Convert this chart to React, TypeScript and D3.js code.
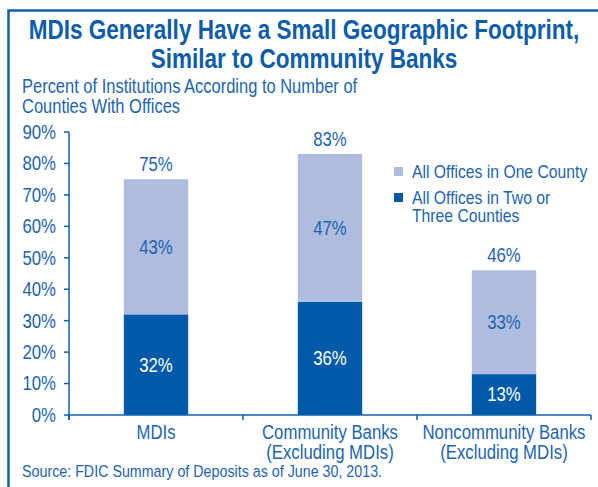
import React from "react";
import * as d3 from "d3";

const categories = ["MDIs", "Community Banks|(Excluding MDIs)", "Noncommunity Banks|(Excluding MDIs)"];
const twoOrThree = [32, 36, 13];
const oneCounty = [43, 47, 33];
const totals = [75, 83, 46];
const yTicks = [0, 10, 20, 30, 40, 50, 60, 70, 80, 90];
const seriesNames = ["All Offices in One County", "All Offices in Two or|Three Counties"];
const titleLines = ["MDIs Generally Have a Small Geographic Footprint,", "Similar to Community Banks"];
const subtitleLines = ["Percent of Institutions According to Number of", "Counties With Offices"];
const source = "Source: FDIC Summary of Deposits as of June 30, 2013.";

const W = 598, H = 487;
const FONT = "'Liberation Sans', Arial, sans-serif";
const BLUE_TEXT = "#1D64B0";
const DARK = "#005AAA";
const LIGHT = "#AEBCDF";
const FRAME = "#1060AC";
const SX = 0.86;
const FS = 19.5;

function T({ x, y, size = FS, anchor = "start", sx = SX, weight = "normal", fill = BLUE_TEXT, dy, children }: any) {
  return (
    <text transform={`translate(${x},${y}) scale(${sx},1)`} dy={dy} textAnchor={anchor} fontSize={size} fontWeight={weight} fill={fill}>
      {children}
    </text>
  );
}

export default function App() {
  const x = d3.scaleBand<string>().domain(categories).range([69, 591]);
  const y = d3.scaleLinear().domain([0, 90]).range([415, 132]);
  const bw = x.bandwidth() * 0.37;
  const bounds = [69, ...categories.map((c) => (x(c) as number) + x.bandwidth())];

  return (
    <svg width={W} height={H} style={{ position: "absolute", left: 0, top: 0, background: "#fff" }} fontFamily={FONT}>
      <rect x={8.5} y={10.5} width={W + 20} height={H + 20} fill="none" stroke={FRAME} strokeWidth={2.5} />
      {titleLines.map((t, i) => (
        <T key={i} x={304} y={39 + i * 29} anchor="middle" size={27} weight="bold" sx={0.834} fill="#0D5DAA">{t}</T>
      ))}
      {subtitleLines.map((t, i) => (
        <T key={i} x={22} y={92.5 + i * 20} sx={0.845}>{t}</T>
      ))}
      {categories.map((c, i) => {
        const cx = (x(c) as number) + x.bandwidth() / 2;
        const x0 = cx - bw / 2;
        return (
          <g key={c}>
            <rect x={x0} y={y(twoOrThree[i])} width={bw} height={y(0) - y(twoOrThree[i])} fill={DARK} />
            <rect x={x0} y={y(twoOrThree[i] + oneCounty[i])} width={bw} height={y(twoOrThree[i]) - y(twoOrThree[i] + oneCounty[i])} fill={LIGHT} />
            <T x={cx} y={(y(0) + y(twoOrThree[i])) / 2} dy="0.35em" anchor="middle" fill="#fff">{twoOrThree[i]}%</T>
            <T x={cx} y={(y(twoOrThree[i]) + y(twoOrThree[i] + oneCounty[i])) / 2} dy="0.35em" anchor="middle">{oneCounty[i]}%</T>
            <T x={cx} y={y(totals[i]) - 8} anchor="middle">{totals[i]}%</T>
            {c.split("|").map((l, j) => (
              <T key={j} x={cx} y={439 + j * 20} anchor="middle">{l}</T>
            ))}
          </g>
        );
      })}
      <line x1={69} x2={69} y1={y(90)} y2={y(0) + 5} stroke={FRAME} strokeWidth={1.5} />
      {yTicks.map((t) => (
        <g key={t}>
          <line x1={64} x2={69} y1={y(t)} y2={y(t)} stroke={FRAME} strokeWidth={1.5} />
          <T x={56} y={y(t)} dy="0.35em" anchor="end">{t}%</T>
        </g>
      ))}
      <line x1={69} x2={591} y1={y(0)} y2={y(0)} stroke={FRAME} strokeWidth={1.5} />
      {bounds.map((b, i) => (
        <line key={i} x1={b} x2={b} y1={y(0)} y2={y(0) + 5} stroke={FRAME} strokeWidth={1.5} />
      ))}
      {seriesNames.map((s, i) => (
        <g key={s}>
          <rect x={394} y={167 + i * 26} width={9} height={9} fill={i === 0 ? LIGHT : DARK} />
          {s.split("|").map((l, j) => (
            <T key={j} x={412} y={177.5 + i * 26 + j * 18} size={18.5} sx={0.85}>{l}</T>
          ))}
        </g>
      ))}
      <T x={22} y={477} size={17} sx={0.84}>{source}</T>
    </svg>
  );
}
